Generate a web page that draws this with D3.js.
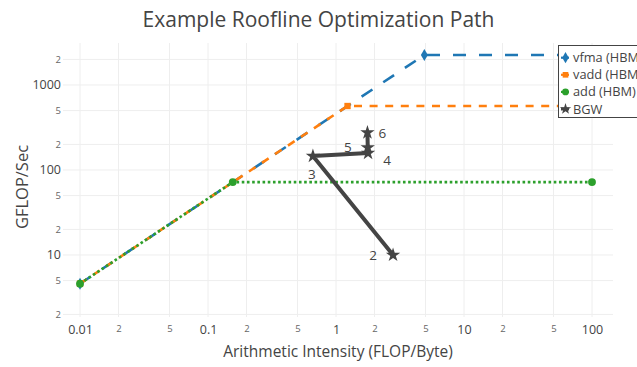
<!DOCTYPE html>
<html>
<head>
<meta charset="utf-8">
<script src="https://cdn.jsdelivr.net/npm/d3@7"></script>
<style>
  html, body { margin: 0; padding: 0; background: #fff; }
  svg { display: block; font-family: "Open Sans", sans-serif; }
</style>
</head>
<body>
<svg id="chart" width="637" height="367"></svg>
<script>
// ---------- data ----------
const titleText = "Example Roofline Optimization Path";
const xTitle = "Arithmetic Intensity (FLOP/Byte)";
const yTitle = "GFLOP/Sec";

const xTickValues = [0.01, 0.02, 0.05, 0.1, 0.2, 0.5, 1, 2, 5, 10, 20, 50, 100];
const xTickLabels = ["0.01", "2", "5", "0.1", "2", "5", "1", "2", "5", "10", "2", "5", "100"];
const yTickValues = [2, 5, 10, 20, 50, 100, 200, 500, 1000, 2000];
const yTickLabels = ["2", "5", "10", "2", "5", "100", "2", "5", "1000", "2"];

const seriesNames = ["vfma (HBM)", "vadd (HBM)", "add (HBM)", "BGW"];

const vfmaX = [0.01, 4.9, 100];
const vfmaY = [4.6, 2254, 2254];
const vaddX = [0.01, 1.23, 100];
const vaddY = [4.6, 566, 566];
const addX = [0.01, 0.156, 100];
const addY = [4.6, 72, 72];

const bgwX = [2.79, 0.66, 1.78, 1.77, 1.76];
const bgwY = [10, 146, 158, 184, 275];
const bgwLabels = ["2", "3", "4", "5", "6"];
const bgwLabelPos = ["left", "bottom", "bottomright", "left", "right"];

// ---------- layout ----------
const svg = d3.select("#chart");
const plot = { left: 63, right: 613, top: 43, bottom: 317 };

const x = d3.scaleLog().domain([Math.pow(10, -2.133), Math.pow(10, 2.164)]).range([plot.left, plot.right]);
const y = d3.scaleLog().domain([Math.pow(10, 0.2706), Math.pow(10, 3.494)]).range([plot.bottom, plot.top]);

const isMinor = t => t === "2" || t === "5";

// grid
const grid = svg.append("g");
grid.selectAll("line.vx").data(xTickValues).enter().append("line")
  .attr("x1", d => x(d)).attr("x2", d => x(d))
  .attr("y1", plot.top).attr("y2", plot.bottom)
  .attr("stroke", "#eeeeee").attr("stroke-width", 1);
grid.selectAll("line.hy").data(yTickValues).enter().append("line")
  .attr("y1", d => y(d)).attr("y2", d => y(d))
  .attr("x1", plot.left).attr("x2", plot.right)
  .attr("stroke", "#eeeeee").attr("stroke-width", 1);

// axes (labels only, plotly style)
const xAxis = d3.axisBottom(x).tickValues(xTickValues)
  .tickFormat((d, i) => xTickLabels[i]).tickSize(0).tickPadding(0);
const gx = svg.append("g").attr("transform", `translate(0,${plot.bottom + 8})`).call(xAxis);
gx.select(".domain").remove();
gx.selectAll("text")
  .attr("fill", (d, i) => isMinor(xTickLabels[i]) ? "#666" : "#444")
  .attr("font-size", (d, i) => isMinor(xTickLabels[i]) ? 9.5 : 12.5)
  .attr("font-family", "Open Sans, sans-serif")
  .attr("dy", "0.71em");

const yAxis = d3.axisLeft(y).tickValues(yTickValues)
  .tickFormat((d, i) => yTickLabels[i]).tickSize(0).tickPadding(0);
const gy = svg.append("g").attr("transform", `translate(${plot.left - 2},0)`).call(yAxis);
gy.select(".domain").remove();
gy.selectAll("text")
  .attr("fill", (d, i) => isMinor(yTickLabels[i]) ? "#666" : "#444")
  .attr("font-size", (d, i) => isMinor(yTickLabels[i]) ? 9.5 : 12.5)
  .attr("font-family", "Open Sans, sans-serif");

// titles
svg.append("text").attr("x", 318.5).attr("y", 27).attr("text-anchor", "middle")
  .attr("font-size", 21).attr("fill", "#444").text(titleText);
svg.append("text").attr("x", (plot.left + plot.right) / 2).attr("y", 357).attr("text-anchor", "middle")
  .attr("font-size", 15.5).attr("fill", "#444").text(xTitle);
svg.append("text").attr("transform", `translate(28,${(plot.top + plot.bottom) / 2 + 7}) rotate(-90)`)
  .attr("text-anchor", "middle").attr("font-size", 16.5).attr("fill", "#444").text(yTitle);

// series
const series = [
  { name: seriesNames[0], xs: vfmaX, ys: vfmaY, color: "#1f77b4", dash: "13,13", width: 2.6, symbol: d3.symbolDiamond, size: 42 },
  { name: seriesNames[1], xs: vaddX, ys: vaddY, color: "#ff7f0e", dash: "8,7.6", width: 2.6, symbol: d3.symbolSquare, size: 40 },
  { name: seriesNames[2], xs: addX, ys: addY, color: "#2ca02c", dash: "2.6,2.6", width: 2.6, symbol: d3.symbolCircle, size: 48 }
];

svg.append("defs").append("clipPath").attr("id", "plotclip")
  .append("rect").attr("x", plot.left).attr("y", plot.top)
  .attr("width", plot.right - plot.left).attr("height", plot.bottom - plot.top);

const lineGen = d3.line().x(d => x(d[0])).y(d => y(d[1]));
const layer = svg.append("g").attr("clip-path", "url(#plotclip)");

series.forEach(s => {
  const pts = s.xs.map((v, i) => [v, s.ys[i]]);
  layer.append("path").datum(pts).attr("d", lineGen)
    .attr("fill", "none").attr("stroke", s.color).attr("stroke-width", s.width)
    .attr("stroke-dasharray", s.dash);
  layer.selectAll(null).data(pts).enter().append("path")
    .attr("d", d3.symbol().type(s.symbol).size(s.size))
    .attr("transform", d => `translate(${x(d[0])},${y(d[1])})`)
    .attr("fill", s.color);
});

// BGW path
const bgwPts = bgwX.map((v, i) => [v, bgwY[i]]);
layer.append("path").datum(bgwPts).attr("d", lineGen)
  .attr("fill", "none").attr("stroke", "#444").attr("stroke-width", 4)
  .attr("stroke-linejoin", "round");
layer.selectAll(null).data(bgwPts).enter().append("path")
  .attr("d", d3.symbol().type(d3.symbolStar).size(64))
  .attr("transform", d => `translate(${x(d[0])},${y(d[1])})`)
  .attr("fill", "#444");

const posOffset = {
  left: [-20, 5, "middle"],
  right: [15, 5, "middle"],
  bottom: [-1, 23, "middle"],
  bottomright: [19, 12, "middle"]
};
svg.selectAll(null).data(bgwPts).enter().append("text")
  .attr("x", (d, i) => x(d[0]) + posOffset[bgwLabelPos[i]][0])
  .attr("y", (d, i) => y(d[1]) + posOffset[bgwLabelPos[i]][1])
  .attr("text-anchor", (d, i) => posOffset[bgwLabelPos[i]][2])
  .attr("font-size", 13.5).attr("fill", "#444")
  .text((d, i) => bgwLabels[i]);

// legend
const lg = svg.append("g");
lg.append("rect").attr("x", 558.5).attr("y", 45.5).attr("width", 100).attr("height", 72)
  .attr("fill", "#fff").attr("stroke", "#444").attr("stroke-width", 1);
const legendItems = [
  { name: seriesNames[0], color: "#1f77b4", symbol: d3.symbolDiamond, size: 36 },
  { name: seriesNames[1], color: "#ff7f0e", symbol: d3.symbolSquare, size: 32 },
  { name: seriesNames[2], color: "#2ca02c", symbol: d3.symbolCircle, size: 36 },
  { name: seriesNames[3], color: "#444", symbol: d3.symbolStar, size: 40 }
];
legendItems.forEach((it, i) => {
  const cy = 57.7 + i * 17.1;
  lg.append("line").attr("x1", 561).attr("x2", 569).attr("y1", cy).attr("y2", cy)
    .attr("stroke", it.color).attr("stroke-width", i === 3 ? 3 : 2.2);
  lg.append("path").attr("d", d3.symbol().type(it.symbol).size(it.size))
    .attr("transform", `translate(565.5,${cy})`).attr("fill", it.color);
  lg.append("text").attr("x", 573).attr("y", cy + 4.5).attr("font-size", 12.8)
    .attr("fill", "#444").text(it.name);
});
</script>
</body>
</html>
